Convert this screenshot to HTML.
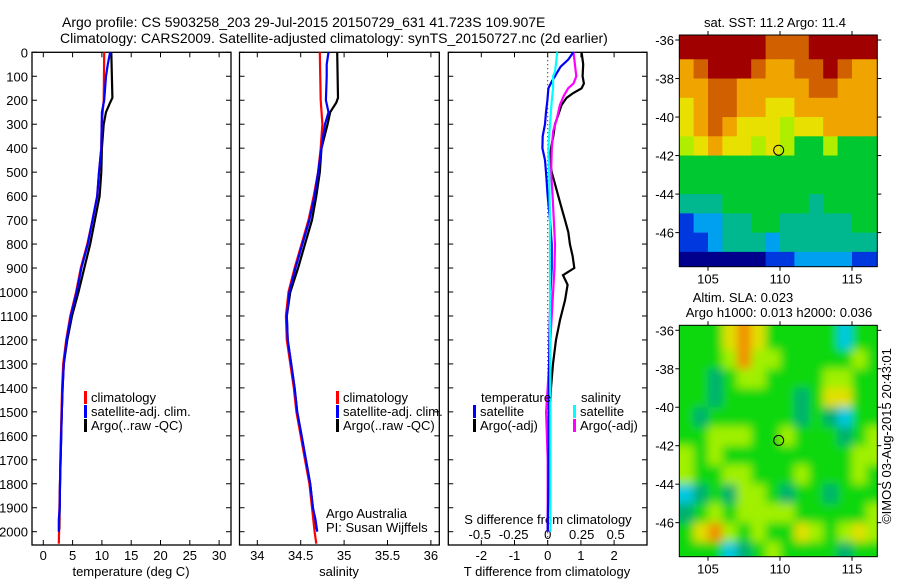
<!DOCTYPE html>
<html><head><meta charset="utf-8"><style>
html,body{margin:0;padding:0;background:#fff;}
svg{display:block;font-family:"Liberation Sans",Arial,sans-serif;}
text{fill:#000;}
</style></head><body>
<svg id="c" width="900" height="580" viewBox="0 0 900 580" xmlns="http://www.w3.org/2000/svg">
<defs>
<clipPath id="clipM1"><rect x="679.3" y="35" width="198" height="231.7"/></clipPath>
<clipPath id="clipM2"><rect x="679.3" y="325.3" width="198" height="231.4"/></clipPath>
<filter id="blur" x="-5%" y="-5%" width="110%" height="110%"><feGaussianBlur stdDeviation="4.5"/></filter>
</defs>
<text x="62" y="27" font-size="14">Argo profile: CS 5903258_203 29-Jul-2015 20150729_631 41.723S 109.907E</text>
<text x="60" y="43" font-size="14">Climatology: CARS2009. Satellite-adjusted climatology: synTS_20150727.nc (2d earlier)</text>
<g id="root"></g>
</svg>
<script>
// ---------- data ----------
const depthTicks=[0,100,200,300,400,500,600,700,800,900,1000,1100,1200,1300,1400,1500,1600,1700,1800,1900,2000];
const tempTicks=[0,5,10,15,20,25,30];
const salTicks=[34,34.5,35,35.5,36];
const salTickLabels=["34","34.5","35","35.5","36"];
const tdiffTicks=[-2,-1,0,1,2];
const sdiffTicks=[-0.5,-0.25,0,0.25,0.5];
const sdiffTickLabels=["-0.5","-0.25","0","0.25","0.5"];

const climDepth=[0,200,300,400,500,600,700,800,900,1000,1100,1200,1300,1400,1500,1600,1700,1800,1900,2000,2050];
const climTemp=[10.4,10.3,9.96,9.9,9.5,9.2,8.4,7.5,6.4,5.6,4.6,3.9,3.4,3.2,3.1,3.0,2.9,2.85,2.75,2.7,2.65];
const climSal=[34.72,34.73,34.75,34.73,34.70,34.65,34.59,34.51,34.43,34.36,34.33,34.34,34.38,34.42,34.45,34.50,34.55,34.60,34.63,34.66,34.68];
const satDepth=[0,50,100,200,250,300,400,500,600,700,800,900,1000,1100,1200,1300,1400,1500,1600,1700,1800,1900,1950,2000];
const satTemp=[11.4,11.0,10.7,10.4,10.0,9.96,9.9,9.5,9.2,8.4,7.6,6.5,5.7,4.7,4.0,3.5,3.3,3.15,3.05,2.95,2.85,2.8,2.65,2.65];
const satSal=[34.82,34.80,34.80,34.79,34.82,34.78,34.74,34.70,34.66,34.60,34.52,34.44,34.37,34.34,34.35,34.39,34.43,34.46,34.51,34.56,34.61,34.64,34.67,34.69];
const argoDepth=[0,190,210,250,300,400,500,600,700,800,900,1000,1100,1200,1300,1400,1500,1600,1700,1800,1900,1990];
const argoTemp=[11.6,11.8,11.4,10.7,10.3,10.0,9.9,9.6,8.8,8.0,7.0,6.0,4.9,4.1,3.5,3.3,3.15,3.05,2.95,2.85,2.8,2.75];
const argoSal=[34.92,34.93,34.91,34.84,34.81,34.74,34.72,34.68,34.63,34.55,34.47,34.38,34.34,34.35,34.39,34.43,34.46,34.51,34.56,34.61,34.64,34.67];

const dDepthSatT=[0,30,60,80,100,120,150,200,250,300,350,400,450,500,600,700,800,900,1000,1200,1500,1800,2000];
const dSatT=[0.77,0.62,0.39,0.3,0.22,0.13,0.02,-0.01,-0.05,-0.08,-0.15,-0.16,-0.08,-0.05,0.0,0.07,0.12,0.12,0.08,0.05,0.03,0.02,0.0];
const dDepthSatS=[0,50,80,100,150,200,300,400,500,700,1000,1500,2000];
const dSatS=[0.07,0.06,0.054,0.04,0.04,0.03,0.017,0.005,0.01,0.017,0.017,0.02,0.02];
const dDepthArgoS=[0,50,100,130,150,180,220,280,330,400,500,600,700,800,900,1000,1200,1400,1500,1700,2000];
const dArgoS=[0.19,0.2,0.21,0.19,0.15,0.12,0.09,0.066,0.04,0.03,0.025,0.036,0.045,0.054,0.05,0.04,0.02,0.0,-0.012,0.0,0.0];
const dDepthArgoT=[0,50,100,130,150,170,190,220,260,300,350,400,450,500,550,600,650,700,750,800,850,900,930,970,1035,1117,1200,1300,1400,1500,1700,1900,1990];
const dArgoT=[1.02,1.07,1.05,1.09,1.02,0.77,0.57,0.42,0.32,0.22,0.17,0.1,0.07,0.12,0.22,0.32,0.42,0.52,0.62,0.67,0.75,0.8,0.46,0.6,0.52,0.37,0.25,0.16,0.1,0.07,0.04,0.01,0.0];

const mapLonTicks=[105,110,115];
const mapLatTicks=[-36,-38,-40,-42,-44,-46];
const sstRows=[
[9,9,9,9,9,9,8,8,8,9,9,9,9,9],
[7,8,9,9,9,8,7,7,8,8,9,8,7,7],
[7,7,8,8,7,7,7,7,7,8,8,7,7,7],
[6,7,8,8,7,7,6,6,7,7,7,7,7,7],
[6,7,8,7,6,6,6,5,6,6,7,7,7,7],
[5,6,7,6,6,5,6,5,4,4,5,4,4,4],
[4,4,4,4,4,4,4,4,4,4,4,4,4,4],
[4,4,4,4,4,4,4,4,4,4,4,4,4,4],
[3,3,3,4,4,4,4,4,4,3,4,4,4,4],
[1,2,2,3,3,4,4,3,3,3,3,3,4,4],
[1,1,2,3,3,3,2,3,3,3,3,3,3,3],
[0,0,0,0,0,0,1,1,2,2,2,2,1,1]];
const slaRows=[
[4,4,4,6,7,6,4,4,4,4,4,2,4,4],
[4,4,4,5,7,5,5,4,4,4,4,4,5,4],
[4,4,3,4,5,5,4,4,4,4,5,5,4,4],
[4,4,3,4,4,4,4,4,3,4,6,6,4,4],
[4,3,4,4,4,4,4,4,3,4,3,2,4,4],
[4,4,5,5,5,4,4,5,4,4,4,3,4,5],
[5,4,5,4,4,4,4,4,4,4,4,4,5,5],
[5,4,4,5,5,4,4,4,5,4,4,4,5,4],
[2,3,4,3,5,5,4,3,4,4,3,4,4,4],
[3,4,5,4,5,5,5,5,4,4,4,4,4,5],
[4,6,7,5,4,5,4,4,6,5,4,5,6,5],
[4,4,4,2,3,4,5,4,4,4,4,3,4,4]];
const argoLon=109.907, argoLat=-41.723;

// ---------- helpers ----------
const NS="http://www.w3.org/2000/svg";
const root=document.getElementById('root');
function mk(tag,attrs,parent){const e=document.createElementNS(NS,tag);for(const k in attrs)e.setAttribute(k,attrs[k]);(parent||root).appendChild(e);return e;}
function txt(x,y,s,size,anchor,parent){const t=mk('text',{x:x,y:y,'font-size':size||13,'text-anchor':anchor||'start'},parent);t.textContent=s;return t;}

const TOP=52.3, BOT=545;
const yD=d=>TOP+d*(531.7-TOP)/2000;
const xT=v=>43.3+v*5.86;
const xS=v=>257.3+(v-34)*86.8;
const xdT=v=>547.7+v*33.2;
const xdS=v=>547.7+v*136;
const panels=[[32,231],[239.5,439.3],[448.3,647]];

panels.forEach((p,i)=>{
  const f=mk('rect',{x:p[0],y:TOP,width:p[1]-p[0],height:BOT-TOP,fill:'none',stroke:'#000','stroke-width':1.3});
  
  
  depthTicks.forEach(d=>{const y=yD(d);mk('line',{x1:p[0],x2:p[0]+5,y1:y,y2:y,stroke:'#000'});mk('line',{x1:p[1]-5,x2:p[1],y1:y,y2:y,stroke:'#000'});});
});
depthTicks.forEach(d=>{const t=txt(28,yD(d)+5,String(d),13,'end');
  
  });
function xticks(vals,fx,labels,ly,both){vals.forEach((v,i)=>{const x=fx(v);
  mk('line',{x1:x,x2:x,y1:BOT-5,y2:BOT,stroke:'#000'});
  if(both)mk('line',{x1:x,x2:x,y1:TOP,y2:TOP+5,stroke:'#000'});
  const t=txt(x,ly,labels[i],13,'middle');
  
  });}
xticks(tempTicks,xT,tempTicks.map(String),560,true);
xticks(salTicks,xS,salTickLabels,560,true);
xticks(tdiffTicks,xdT,tdiffTicks.map(String),560,true);
sdiffTicks.forEach((v,i)=>{const t=txt(xdS(v),539,sdiffTickLabels[i],13,'middle');
  
  });
let a=txt(131,576,'temperature (deg C)',13,'middle');
a=txt(339,576,'salinity',13,'middle');
a=txt(547,576,'T difference from climatology',13,'middle');
a=txt(548,524,'S difference from climatology',13,'middle');

a=mk('line',{x1:xdT(0),x2:xdT(0),y1:TOP,y2:BOT,stroke:'#000','stroke-dasharray':'1,3'});


function series(depths,vals,fx,color,name){
  const pts=depths.map((d,i)=>fx(vals[i]).toFixed(1)+','+yD(d).toFixed(1)).join(' ');
  const l=mk('polyline',{points:pts,fill:'none',stroke:color,'stroke-width':2.2,'stroke-linejoin':'miter'});
  
  
}
series(argoDepth,argoTemp,xT,'#000','argo-temperature-line');
series(climDepth,climTemp,xT,'#f00','clim-temperature-line');
series(satDepth,satTemp,xT,'#00f','sat-temperature-line');
series(argoDepth,argoSal,xS,'#000','argo-salinity-line');
series(climDepth,climSal,xS,'#f00','clim-salinity-line');
series(satDepth,satSal,xS,'#00f','sat-salinity-line');
series(dDepthArgoT,dArgoT,xdT,'#000','argo-tdiff-line');
series(dDepthArgoS,dArgoS,xdS,'#f0f','argo-sdiff-line');
series(dDepthSatT,dSatT,xdT,'#00f','sat-tdiff-line');
series(dDepthSatS,dSatS,xdS,'#0ff','sat-sdiff-line');

function legItem(bx,y,color,label,name){
  const r=mk('rect',{x:bx,y:y-11,width:3,height:13,fill:color});
  
  const t=txt(bx+7,y,label,13);
  
}
[[84],[336]].forEach((p,i)=>{
  legItem(p[0],402,'#f00','climatology','legend-climatology');
  legItem(p[0],416,'#00f','satellite-adj. clim.','legend-satellite-adj');
  legItem(p[0],430,'#000','Argo(..raw -QC)','legend-argo');
});
a=txt(481,402,'temperature',13);
a=txt(581,402,'salinity',13);
legItem(473,416,'#00f','satellite','legend-t-satellite');
legItem(473,430,'#000','Argo(-adj)','legend-t-argo');
legItem(573,416,'#0ff','satellite','legend-s-satellite');
legItem(573,430,'#f0f','Argo(-adj)','legend-s-argo');
a=txt(326,518,'Argo Australia',13);
a=txt(326,532,'PI: Susan Wijffels',13);

const mapL=679.3,mapR=877.3,lonMin=103.02,lonMax=116.77;
const xLon=l=>708+(l-105)*14.4;
function mapFrame(top,bot,latTop,latBot,rows,colors,clip,blur,name){
  const yLat=la=>top+(latTop-la)*(bot-top)/(latTop-latBot);
  const g=mk('g',{'clip-path':'url(#'+clip+')'});
  
  const inner=mk('g',blur?{filter:'url(#blur)'}:{},g);
  const latEdges=[latTop];for(let k=1;k<rows.length;k++)latEdges.push(-36-k);latEdges.push(latBot);
  rows.forEach((row,r)=>{row.forEach((v,c)=>{
    const l0=c===0?lonMin:103+c, l1=c===row.length-1?lonMax:104+c;
    let x0=xLon(l0),x1=xLon(l1),y0=yLat(latEdges[r]),y1=yLat(latEdges[r+1]);
    if(blur){if(c===0)x0-=20;if(c===row.length-1)x1+=20;if(r===0)y0-=20;if(r===rows.length-1)y1+=20;}
    const cell=mk('rect',{x:x0.toFixed(2),y:y0.toFixed(2),width:(x1-x0+0.6).toFixed(2),height:(y1-y0+0.6).toFixed(2),fill:colors[v]},inner);
    
    
  });});
  const fr=mk('rect',{x:mapL,y:top,width:mapR-mapL,height:bot-top,fill:'none',stroke:'#000','stroke-width':1});
  
  mapLatTicks.forEach(la=>{const y=yLat(la);
    mk('line',{x1:mapL-4,x2:mapL,y1:y,y2:y,stroke:'#000'});mk('line',{x1:mapR,x2:mapR+4,y1:y,y2:y,stroke:'#000'});
    const t=txt(674,y+5,String(la),13,'end');});
  mapLonTicks.forEach(lo=>{const x=xLon(lo);
    mk('line',{x1:x,x2:x,y1:top-4,y2:top,stroke:'#000'});mk('line',{x1:x,x2:x,y1:bot,y2:bot+4,stroke:'#000'});
    const t=txt(x,bot+17,String(lo),13,'middle');});
  const c=mk('circle',{cx:xLon(argoLon),cy:yLat(argoLat),r:5,fill:'none',stroke:'#000','stroke-width':1});
  
}
const sstColors=['#00008c','#0038e0','#00a0f0','#00b890','#00c830','#b0ee00','#e8e000','#f0a400','#d06000','#a00000'];
const slaColors=['#0000a0','#0050f0','#00c8e0','#00b070','#10d810','#a0f000','#e0e000','#f09000'];
mapFrame(35,266.7,-35.74,-47.77,sstRows,sstColors,'clipM1',false,'sst-map');
mapFrame(325.3,556.7,-35.74,-47.77,slaRows,slaColors,'clipM2',true,'sla-map');
a=txt(775,27,'sat. SST: 11.2 Argo: 11.4',13,'middle');
a=txt(743,302,'Altim. SLA: 0.023',13,'middle');
a=txt(779,317,'Argo h1000: 0.013 h2000: 0.036',13,'middle');
a=txt(0,0,'©IMOS 03-Aug-2015 20:43:01',13,'middle');
a.setAttribute('transform','translate(891,436) rotate(-90)');

</script>
</body></html>
